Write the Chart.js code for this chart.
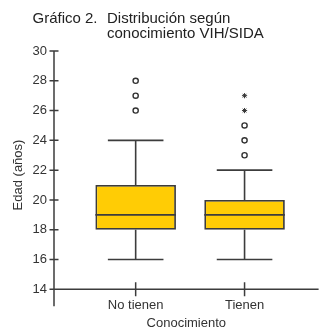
<!DOCTYPE html>
<html lang="es">
<head>
<meta charset="utf-8">
<title>Gráfico 2. Distribución según conocimiento VIH/SIDA</title>
<script src="https://cdn.jsdelivr.net/npm/chart.js@4/dist/chart.umd.min.js"></script>
<style>
  html, body { margin: 0; padding: 0; background: #ffffff; }
  #wrap { width: 324px; height: 332px; }
</style>
</head>
<body>
<div id="wrap"><canvas id="chart" width="324" height="332"></canvas></div>
<script>
// Age distribution (years) by knowledge of HIV/AIDS
const categories = ['No tienen', 'Tienen'];
const whiskerLow = [16, 16];
const q1 = [18, 18];
const median = [19, 19];
const q3 = [21, 20];
const whiskerHigh = [24, 22];
// outliers (circles) and extreme values (asterisks) per group
const outliers = [[26, 27, 28], [23, 24, 25]];
const extremes = [[], [26, 27]];
const yTicks = [14, 16, 18, 20, 22, 24, 26, 28, 30];

const FONT = '"Liberation Sans", Arial, Helvetica, sans-serif';
const INK = '#333333';
const LINE = '#3c3c3c';
const BOX_FILL = '#FFCC05';

const toPoints = groups => groups.flatMap((vals, i) => vals.map(v => ({ x: i, y: v })));

// Whiskers, caps and median lines, placed through the chart scales
const boxParts = {
  id: 'boxParts',
  afterDatasetsDraw(chart) {
    const { ctx, scales: { y } } = chart;
    const bars = chart.getDatasetMeta(0).data;
    ctx.save();
    ctx.strokeStyle = LINE;
    bars.forEach((bar, i) => {
      const half = bar.width / 2;
      const capHalf = half * 0.69;
      const cx = bar.x;
      const yq1 = y.getPixelForValue(q1[i]);
      const yq3 = y.getPixelForValue(q3[i]);
      const ylo = y.getPixelForValue(whiskerLow[i]);
      const yhi = y.getPixelForValue(whiskerHigh[i]);
      const ymed = y.getPixelForValue(median[i]);
      ctx.lineWidth = 1.6;
      ctx.beginPath();
      ctx.moveTo(cx, yq3); ctx.lineTo(cx, yhi);
      ctx.moveTo(cx - capHalf, yhi); ctx.lineTo(cx + capHalf, yhi);
      ctx.moveTo(cx, yq1); ctx.lineTo(cx, ylo);
      ctx.moveTo(cx - capHalf, ylo); ctx.lineTo(cx + capHalf, ylo);
      ctx.stroke();
      ctx.lineWidth = 1.8;
      ctx.beginPath();
      ctx.moveTo(cx - half, ymed); ctx.lineTo(cx + half, ymed);
      ctx.stroke();
    });
    ctx.restore();
  }
};

// Axis lines with ticks crossing them, plus the heading and y title
const frame = {
  id: 'frame',
  afterDraw(chart) {
    const { ctx, chartArea: a, scales: { x, y } } = chart;
    ctx.save();
    ctx.strokeStyle = LINE;
    ctx.lineWidth = 1.5;
    ctx.beginPath();
    ctx.moveTo(a.left, a.top);
    ctx.lineTo(a.left, a.bottom + 17);
    ctx.moveTo(a.left, a.bottom);
    ctx.lineTo(a.right, a.bottom);
    y.ticks.forEach(t => {
      const py = y.getPixelForValue(t.value);
      ctx.moveTo(a.left - 4.5, py);
      ctx.lineTo(a.left + 4.5, py);
    });
    x.ticks.forEach(t => {
      const px = x.getPixelForValue(t.value);
      ctx.moveTo(px, a.bottom - 7);
      ctx.lineTo(px, a.bottom + 7);
    });
    ctx.stroke();

    ctx.fillStyle = '#222222';
    ctx.textBaseline = 'alphabetic';
    ctx.textAlign = 'left';
    ctx.font = '15px ' + FONT;
    ctx.fillText('Gráfico 2.', 32.5, 22.5);
    ctx.fillText('Distribución según', 107, 22.5);
    ctx.fillText('conocimiento VIH/SIDA', 107, 37.5);

    ctx.font = '13px ' + FONT;
    ctx.fillStyle = INK;
    ctx.translate(18, 175);
    ctx.rotate(-Math.PI / 2);
    ctx.textAlign = 'center';
    ctx.textBaseline = 'middle';
    ctx.fillText('Edad (años)', 0, 0);
    ctx.restore();
  }
};

new Chart(document.getElementById('chart'), {
  type: 'bar',
  data: {
    datasets: [
      {
        label: 'Rango intercuartílico',
        data: categories.map((c, i) => ({ x: i, y: [q1[i], q3[i]] })),
        backgroundColor: BOX_FILL,
        borderColor: LINE,
        borderWidth: 1.8,
        borderSkipped: false,
        barPercentage: 0.74,
        categoryPercentage: 1
      },
      {
        type: 'scatter',
        label: 'Valores atípicos',
        data: toPoints(outliers),
        pointStyle: 'circle',
        radius: 2.6,
        backgroundColor: '#ffffff',
        borderColor: INK,
        borderWidth: 1.4
      },
      {
        type: 'scatter',
        label: 'Valores extremos',
        data: toPoints(extremes),
        pointStyle: 'star',
        radius: 2.6,
        borderColor: INK,
        borderWidth: 1
      }
    ]
  },
  options: {
    responsive: false,
    animation: false,
    events: [],
    layout: { padding: { top: 51, left: 0, right: 0, bottom: 0 } },
    plugins: { legend: { display: false }, tooltip: { enabled: false }, title: { display: false } },
    scales: {
      x: {
        type: 'linear',
        min: -0.75,
        max: 1.68,
        offset: false,
        grid: { display: false, drawTicks: false, tickLength: 0 },
        border: { display: false },
        afterBuildTicks: scale => { scale.ticks = categories.map((c, i) => ({ value: i })); },
        afterFit: scale => { scale.height = 42.7; },
        ticks: {
          callback: v => categories[v],
          maxRotation: 0,
          padding: 8,
          color: INK,
          font: { family: FONT, size: 13 }
        },
        title: {
          display: true,
          text: 'Conocimiento',
          color: INK,
          padding: { top: 0, bottom: 1 },
          font: { family: FONT, size: 13 }
        }
      },
      y: {
        min: 14,
        max: 30,
        grid: { display: false, drawTicks: false, tickLength: 0 },
        border: { display: false },
        afterBuildTicks: scale => { scale.ticks = yTicks.map(v => ({ value: v })); },
        afterFit: scale => { scale.width = 54; },
        ticks: {
          padding: 7,
          color: INK,
          font: { family: FONT, size: 13 }
        }
      }
    }
  },
  plugins: [boxParts, frame]
});
</script>
</body>
</html>
